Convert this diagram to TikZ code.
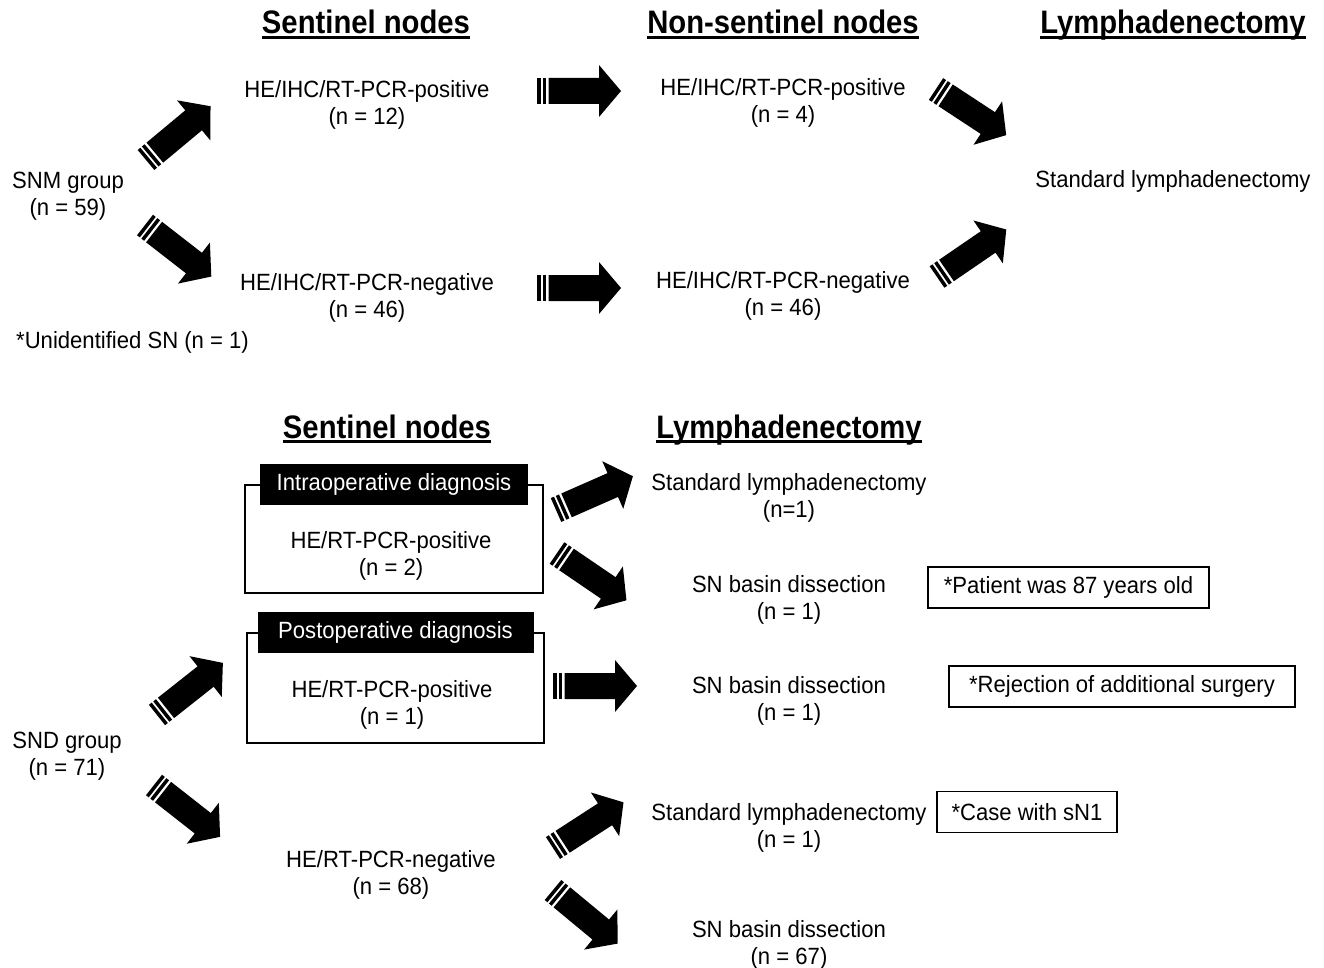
\documentclass[tikz,border=0pt]{standalone}
\usepackage{fontspec}
\setmainfont{Liberation Sans}[FakeStretch=0.94]
\newfontfamily\ttlfont{Liberation Sans}[FakeStretch=0.9]
\usetikzlibrary{calc}
\tikzset{
  txt/.style={inner sep=0pt, align=center, font=\fontsize{23.5}{27}\selectfont},
  ttl/.style={inner sep=0pt, anchor=base, font=\ttlfont\fontsize{32.5}{36}\selectfont\bfseries},
  uline/.style={line width=2.5pt},
  outerbox/.style={draw, line width=1.4pt, inner sep=0pt},
  blacklabel/.style={fill=black, text=white, inner sep=0pt, minimum height=41pt, font=\fontsize{23.5}{27}\selectfont},
  notebox/.style={draw, line width=1.4pt, inner sep=0pt, minimum height=41pt, font=\fontsize{23.5}{27}\selectfont},
  fatarrow/.pic={
    \fill[black] (0,-13) rectangle (3.5,13);
    \fill[black] (5.5,-13) rectangle (9,13);
    \fill[black] (11.5,-13) -- (62,-13) -- (62,-26) -- (84,0) -- (62,26) -- (62,13) -- (11.5,13) -- cycle;
  }
}
\newcommand\fatarr[2]{%
  \path let \p1=($(#2)-(#1)$), \n1={atan2(\y1,\x1)} in (#1) pic[rotate=\n1] {fatarrow};%
}
\begin{document}
\begin{tikzpicture}[x=1pt,y=-1pt]
\useasboundingbox[fill=white] (0,0) rectangle (1324,968);

% ---------- titles ----------
\node[ttl] (t1) at (366,34) {Sentinel nodes};
\node[ttl] (t2) at (783,34) {Non-sentinel nodes};
\node[ttl] (t3) at (1173,34) {Lymphadenectomy};
\node[ttl] (t4) at (387,438) {Sentinel nodes};
\node[ttl] (t5) at (789,438) {Lymphadenectomy};
\foreach \t in {t1,t2,t3,t4,t5}{
  \draw[uline] ([yshift=-3.5pt]\t.base west) -- ([yshift=-3.5pt]\t.base east);
}

% ---------- top section ----------
\node[txt] (snm) at (68,196) {SNM group\\(n = 59)};
\node[txt] (sp) at (367,105) {HE/IHC/RT-PCR-positive\\(n = 12)};
\node[txt] (sn) at (367,298) {HE/IHC/RT-PCR-negative\\(n = 46)};
\node[txt] (np) at (783,103) {HE/IHC/RT-PCR-positive\\(n = 4)};
\node[txt] (nn) at (783,296) {HE/IHC/RT-PCR-negative\\(n = 46)};
\node[txt] (std) at (1173,181) {Standard lymphadenectomy};
\node[txt, anchor=west] (unid) at (16,342) {*Unidentified SN (n = 1)};

\coordinate (a1s) at (146,160); \coordinate (a1e) at (212,105);
\coordinate (a2s) at (145,225); \coordinate (a2e) at (208,274);
\coordinate (a3s) at (537,91);  \coordinate (a3e) at (620,91);
\coordinate (a4s) at (537,288); \coordinate (a4e) at (620,288);
\coordinate (a5s) at (936,89);  \coordinate (a5e) at (1006,135);
\coordinate (a6s) at (937,277); \coordinate (a6e) at (1007,229);
\fatarr{a1s}{a1e}
\fatarr{a2s}{a2e}
\fatarr{a3s}{a3e}
\fatarr{a4s}{a4e}
\fatarr{a5s}{a5e}
\fatarr{a6s}{a6e}

% ---------- bottom section ----------
\node[outerbox, minimum width=298pt, minimum height=108pt] (box1) at (394,539) {};
\node[blacklabel, minimum width=268pt] (lab1) at (box1.north) {Intraoperative diagnosis};
\node[txt] (ip) at (391,556) {HE/RT-PCR-positive\\(n = 2)};

\node[outerbox, minimum width=297pt, minimum height=110pt] (box2) at (395.5,688) {};
\node[blacklabel, minimum width=276pt] (lab2) at (box2.north) {Postoperative diagnosis};
\node[txt] (pp) at (392,705) {HE/RT-PCR-positive\\(n = 1)};

\node[txt] (snd) at (67,756) {SND group\\(n = 71)};
\node[txt] (neg) at (391,875) {HE/RT-PCR-negative\\(n = 68)};

\node[txt] (l1) at (789,498) {Standard lymphadenectomy\\(n=1)};
\node[txt] (l2) at (789,600) {SN basin dissection\\(n = 1)};
\node[txt] (l3) at (789,701) {SN basin dissection\\(n = 1)};
\node[txt] (l4) at (789,828) {Standard lymphadenectomy\\(n = 1)};
\node[txt] (l5) at (789,945) {SN basin dissection\\(n = 67)};

\node[notebox, minimum width=281pt] (n1) at (1068.5,587.5) {*Patient was 87 years old};
\node[notebox, minimum width=346pt] (n2) at (1122,686.5) {*Rejection of additional surgery};
\node[notebox, minimum width=180pt] (n3) at (1027,812) {*Case with sN1};

\coordinate (b1s) at (556,510); \coordinate (b1e) at (631,477);
\coordinate (b2s) at (557,553); \coordinate (b2e) at (626,600);
\coordinate (b3s) at (553,686); \coordinate (b3e) at (637,686);
\coordinate (b4s) at (157,715); \coordinate (b4e) at (224,662);
\coordinate (b5s) at (154,785); \coordinate (b5e) at (219,836);
\coordinate (b6s) at (553,848); \coordinate (b6e) at (624,802);
\coordinate (b7s) at (553,890); \coordinate (b7e) at (617,943);
\fatarr{b1s}{b1e}
\fatarr{b2s}{b2e}
\fatarr{b3s}{b3e}
\fatarr{b4s}{b4e}
\fatarr{b5s}{b5e}
\fatarr{b6s}{b6e}
\fatarr{b7s}{b7e}
\end{tikzpicture}
\end{document}
